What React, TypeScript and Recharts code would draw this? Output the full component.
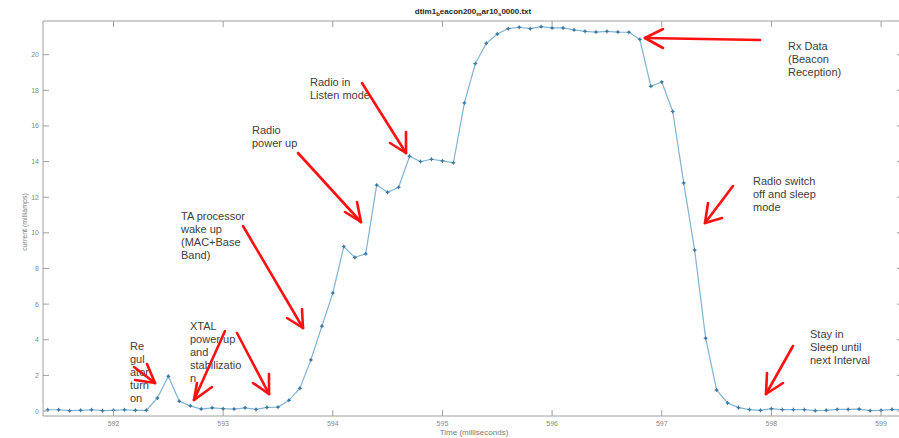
import { LineChart, Line, XAxis, YAxis } from 'recharts';

// sample times (ms) and measured current (mA)
const times = [
  591.4, 591.5, 591.6, 591.7, 591.8, 591.9, 592.0, 592.1, 592.2, 592.3,
  592.4, 592.5, 592.6, 592.7, 592.8, 592.9, 593.0, 593.1, 593.2, 593.3,
  593.4, 593.5, 593.6, 593.7, 593.8, 593.9, 594.0, 594.1, 594.2, 594.3,
  594.4, 594.5, 594.6, 594.7, 594.8, 594.9, 595.0, 595.1, 595.2, 595.3,
  595.4, 595.5, 595.6, 595.7, 595.8, 595.9, 596.0, 596.1, 596.2, 596.3,
  596.4, 596.5, 596.6, 596.7, 596.8, 596.9, 597.0, 597.1, 597.2, 597.3,
  597.4, 597.5, 597.6, 597.7, 597.8, 597.9, 598.0, 598.1, 598.2, 598.3,
  598.4, 598.5, 598.6, 598.7, 598.8, 598.9, 599.0, 599.1, 599.2,
];
const current = [
  0.07, 0.07, 0.02, 0.04, 0.07, 0.02, 0.04, 0.07, 0.04, 0.04,
  0.73, 1.95, 0.55, 0.29, 0.11, 0.18, 0.13, 0.11, 0.18, 0.09,
  0.2, 0.22, 0.6, 1.28, 2.87, 4.76, 6.62, 9.23, 8.62, 8.82,
  12.68, 12.28, 12.56, 14.3, 14.0, 14.13, 14.04, 13.93, 17.29, 19.5,
  20.64, 21.16, 21.46, 21.54, 21.46, 21.57, 21.5, 21.5, 21.39, 21.31,
  21.27, 21.31, 21.27, 21.26, 20.86, 18.23, 18.47, 16.81, 12.8, 9.03,
  4.09, 1.18, 0.45, 0.19, 0.08, 0.04, 0.13, 0.08, 0.08, 0.08,
  0.02, 0.04, 0.09, 0.09, 0.11, 0.02, 0.04, 0.09, 0.07,
];
const xTicks = [592, 593, 594, 595, 596, 597, 598, 599];
const yTicks = [0, 2, 4, 6, 8, 10, 12, 14, 16, 18, 20];

const data = times.map((t, i) => ({ time: t, current: current[i] }));

const X_DOMAIN = [591.357, 599.2];
const Y_DOMAIN = [-0.28, 21.89];
const AXIS = '#a0a0a0';
const TICK_TXT = '#8a8a8a';
const NOTE = '#404040';
const RED = '#ff1010';

// annotation text blocks: [x, first baseline, lines]
const notes: [number, number, string[]][] = [
  [310, 86, ['Radio in', 'Listen mode']],
  [252, 134, ['Radio', 'power  up']],
  [181, 220, ['TA processor', 'wake  up', '(MAC+Base', 'Band)']],
  [190, 330, ['XTAL', 'power  up', 'and', 'stabilizatio', 'n']],
  [130, 350, ['Re', 'gul', 'ator', 'turn', 'on']],
  [788, 50, ['Rx Data', '(Beacon', 'Reception)']],
  [753, 185, ['Radio  switch', 'off and  sleep', 'mode']],
  [810, 338, ['Stay  in', 'Sleep  until', 'next  Interval']],
];

// arrows: shaft start, tip, two wing ends
const arrows: number[][] = [
  [362, 83, 406, 153, 390, 143, 406, 132],
  [298, 153, 361, 222, 345, 212, 357, 202],
  [243, 226, 303, 328, 287, 318, 302, 309],
  [225, 331, 194, 400, 212, 387, 197, 383],
  [237, 333, 269, 394, 253, 383, 269, 374],
  [134, 367, 155, 383, 147, 364, 135, 380],
  [760, 40, 645, 38, 663, 29, 663, 48],
  [733, 186, 705, 223, 722, 218, 708, 203],
  [793, 346, 766, 394, 783, 383, 767, 373],
];

const BottomTick = ({ x, y, payload }: any) => (
  <g>
    <line x1={x} y1={y} x2={x} y2={y - 6} stroke={AXIS} />
    <text x={x} y={y + 10} textAnchor="middle" fontSize={7} fill={TICK_TXT}>
      {payload.value}
    </text>
  </g>
);
const TopTick = ({ x, y }: any) => <line x1={x} y1={y} x2={x} y2={y + 6} stroke={AXIS} />;
const LeftTick = ({ x, y, payload }: any) => (
  <g>
    <line x1={x} y1={y} x2={x + 6} y2={y} stroke={AXIS} />
    <text x={x - 4} y={y + 2.5} textAnchor="end" fontSize={7} fill={TICK_TXT}>
      {payload.value}
    </text>
  </g>
);
const RightTick = ({ x, y }: any) => <line x1={x} y1={y} x2={x - 6} y2={y} stroke={AXIS} />;

const StarDot = ({ cx, cy }: any) => {
  if (cx == null || cy == null) return null;
  return (
    <g>
      <line x1={cx - 2} y1={cy} x2={cx + 2} y2={cy} stroke="#3a76a2" strokeWidth={0.9} />
      <line x1={cx} y1={cy - 2} x2={cx} y2={cy + 2} stroke="#3a76a2" strokeWidth={0.9} />
      <circle cx={cx} cy={cy} r={1.2} fill="#3a76a2" />
    </g>
  );
};

export default function App() {
  return (
    <div
      style={{
        position: 'absolute',
        left: 0,
        top: 0,
        width: 899,
        height: 438,
        overflow: 'hidden',
        background: '#fff',
        fontFamily: '"Liberation Sans", Arial, sans-serif',
      }}
    >
      <LineChart width={905} height={438} data={data} margin={{ top: 0, right: 0, bottom: 0, left: 0 }}>
        <XAxis
          xAxisId="b"
          dataKey="time"
          type="number"
          domain={X_DOMAIN}
          ticks={xTicks}
          allowDataOverflow
          height={22}
          tickSize={0}
          tickMargin={0}
          tickLine={false}
          tick={<BottomTick />}
          axisLine={{ stroke: AXIS }}
        />
        <XAxis
          xAxisId="t"
          orientation="top"
          dataKey="time"
          type="number"
          domain={X_DOMAIN}
          ticks={xTicks}
          allowDataOverflow
          height={21}
          tickSize={0}
          tickMargin={0}
          tickLine={false}
          tick={<TopTick />}
          axisLine={{ stroke: AXIS }}
        />
        <YAxis
          yAxisId="l"
          type="number"
          domain={Y_DOMAIN}
          ticks={yTicks}
          allowDataOverflow
          width={43}
          tickSize={0}
          tickMargin={0}
          tickLine={false}
          tick={<LeftTick />}
          axisLine={{ stroke: AXIS }}
        />
        <YAxis
          yAxisId="r"
          orientation="right"
          type="number"
          domain={Y_DOMAIN}
          ticks={yTicks}
          allowDataOverflow
          width={2}
          tickSize={0}
          tickMargin={0}
          tickLine={false}
          tick={<RightTick />}
          axisLine={{ stroke: AXIS }}
        />
        <Line
          xAxisId="b"
          yAxisId="l"
          type="linear"
          dataKey="current"
          stroke="#82b3d1"
          strokeWidth={1.2}
          dot={<StarDot />}
          activeDot={false}
          isAnimationActive={false}
        />
      </LineChart>
      <svg
        width={899}
        height={438}
        style={{ position: 'absolute', left: 0, top: 0, pointerEvents: 'none' }}
      >
        <text x={473} y={14} textAnchor="middle" fontSize={8} fontWeight="bold" fill="#262626">
          dtim1<tspan dy={2} fontSize={6}>b</tspan>
          <tspan dy={-2}>eacon200</tspan>
          <tspan dy={2} fontSize={6}>m</tspan>
          <tspan dy={-2}>ar10</tspan>
          <tspan dy={2} fontSize={6}>s</tspan>
          <tspan dy={-2}>0000.txt</tspan>
        </text>
        <text x={474} y={435} textAnchor="middle" fontSize={8} fill="#7a7a7a">
          Time (milliseconds)
        </text>
        <text
          transform="translate(27,222) rotate(-90)"
          textAnchor="middle"
          fontSize={7}
          fill="#7a7a7a"
        >
          current (milliamps)
        </text>
        {notes.map(([x, y, lines], i) => (
          <text key={`n${i}`} x={x} y={y} fontSize={11} fill={NOTE}>
            {lines.map((s, j) => (
              <tspan key={j} x={x} y={y + j * 13}>
                {s}
              </tspan>
            ))}
          </text>
        ))}
        {arrows.map((a, i) => (
          <g key={`a${i}`} stroke={RED} strokeWidth={2.6} strokeLinecap="round" fill="none">
            <line x1={a[0]} y1={a[1]} x2={a[2]} y2={a[3]} />
            <line x1={a[2]} y1={a[3]} x2={a[4]} y2={a[5]} />
            <line x1={a[2]} y1={a[3]} x2={a[6]} y2={a[7]} />
          </g>
        ))}
      </svg>
    </div>
  );
}
